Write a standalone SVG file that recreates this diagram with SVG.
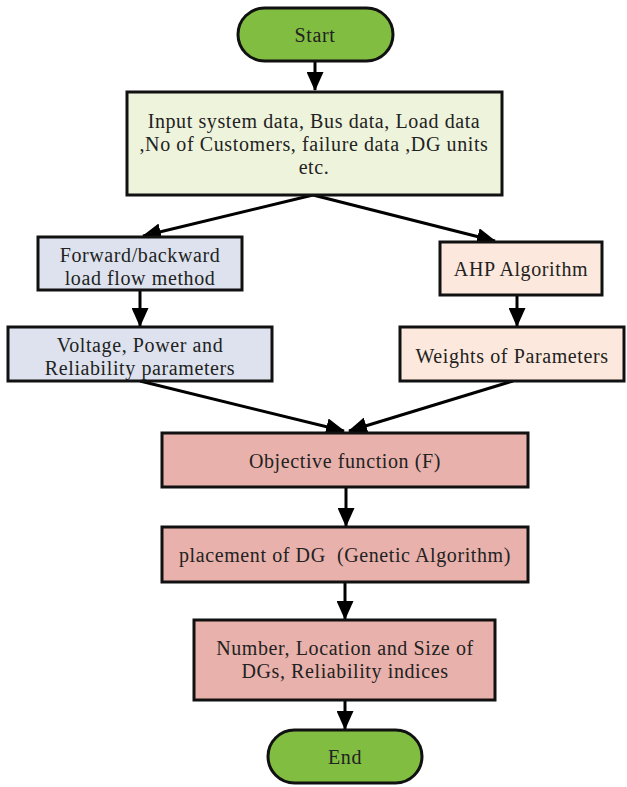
<svg xmlns="http://www.w3.org/2000/svg" width="627" height="787" viewBox="0 0 627 787">
<defs>
<style>
.b{stroke:#111;stroke-width:3}
.t{font-family:"Liberation Serif","Times New Roman",serif;font-size:20px;letter-spacing:0.6px;fill:#222;text-anchor:middle}
.c{stroke:#000;stroke-width:3;fill:none}
.green{fill:#80bd41}
.yel{fill:#eef3dc}
.blue{fill:#dde2ee}
.peach{fill:#fce8dc}
.pink{fill:#e8b1ab}
</style>
<marker id="a" viewBox="0 0 19 17" refX="18" refY="8.5" markerWidth="19" markerHeight="17" markerUnits="userSpaceOnUse" orient="auto">
<path d="M0,0 L19,8.5 L0,17 z" fill="#000"/>
</marker>
</defs>
<rect width="627" height="787" fill="#fff"/>
<g id="connectors">
<line class="c" x1="315" y1="62" x2="315" y2="90" marker-end="url(#a)"/>
<line class="c" x1="313" y1="195" x2="143" y2="236" marker-end="url(#a)"/>
<line class="c" x1="313" y1="195" x2="495" y2="241" marker-end="url(#a)"/>
<line class="c" x1="140" y1="290" x2="140" y2="326" marker-end="url(#a)"/>
<line class="c" x1="517" y1="295" x2="517" y2="326" marker-end="url(#a)"/>
<line class="c" x1="140" y1="381" x2="344" y2="431" marker-end="url(#a)"/>
<line class="c" x1="513" y1="381" x2="349" y2="431" marker-end="url(#a)"/>
<line class="c" x1="346" y1="487" x2="346" y2="526" marker-end="url(#a)"/>
<line class="c" x1="345" y1="582" x2="345" y2="619" marker-end="url(#a)"/>
<line class="c" x1="345" y1="700" x2="345" y2="729" marker-end="url(#a)"/>
</g>
<g id="start">
<rect class="b green" x="238" y="8" width="155" height="53" rx="26.5"/>
<text class="t" x="315" y="42">Start</text>
</g>
<g id="input">
<rect class="b yel" x="127" y="92" width="375" height="103"/>
<text class="t" x="314" y="128">Input system data, Bus data, Load data</text>
<text class="t" x="314" y="151">,No of Customers, failure data ,DG units</text>
<text class="t" x="314" y="174">etc.</text>
</g>
<g id="forward">
<rect class="b blue" x="38" y="237" width="204" height="53"/>
<text class="t" x="140" y="262">Forward/backward</text>
<text class="t" x="140" y="285">load flow method</text>
</g>
<g id="voltage">
<rect class="b blue" x="8" y="327" width="264" height="54"/>
<text class="t" x="140" y="352">Voltage, Power and</text>
<text class="t" x="140" y="375">Reliability parameters</text>
</g>
<g id="ahp">
<rect class="b peach" x="440" y="242" width="162" height="53"/>
<text class="t" x="521" y="276">AHP Algorithm</text>
</g>
<g id="weights">
<rect class="b peach" x="400" y="327" width="224" height="54"/>
<text class="t" x="512" y="363">Weights of Parameters</text>
</g>
<g id="objective">
<rect class="b pink" x="162" y="433" width="366" height="54"/>
<text class="t" x="345" y="468">Objective function (F)</text>
</g>
<g id="placement">
<rect class="b pink" x="162" y="527" width="366" height="55"/>
<text class="t" x="345" y="562" xml:space="preserve">placement of DG  (Genetic Algorithm)</text>
</g>
<g id="result">
<rect class="b pink" x="194" y="620" width="301" height="80"/>
<text class="t" x="345" y="655">Number, Location and Size of</text>
<text class="t" x="345" y="678">DGs, Reliability indices</text>
</g>
<g id="end">
<rect class="b green" x="268" y="730" width="154" height="53" rx="26.5"/>
<text class="t" x="345" y="764">End</text>
</g>
</svg>
